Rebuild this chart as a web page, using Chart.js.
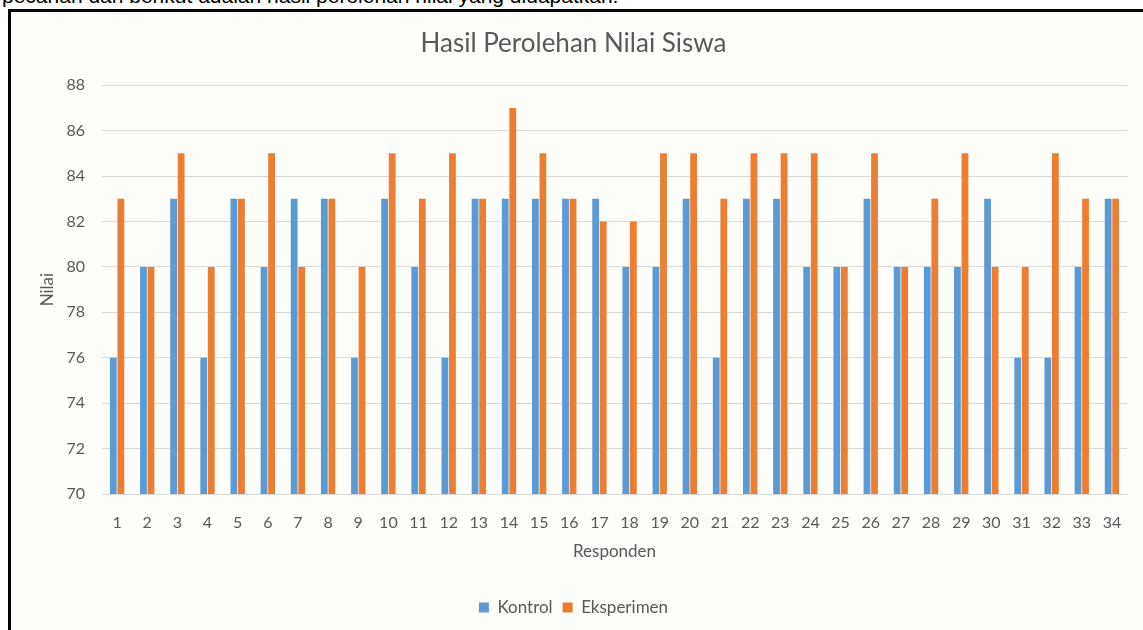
<!DOCTYPE html>
<html>
<head>
<meta charset="utf-8">
<script src="https://cdn.jsdelivr.net/npm/chart.js@4"></script>
<style>
  html, body { margin: 0; padding: 0; background: #fff; overflow: hidden; }
  #page { position: relative; width: 1143px; height: 630px; }
  #lead {
    position: absolute; left: 2px; top: -16px;
    font: 21px "Liberation Sans", Arial, sans-serif; color: #000; white-space: nowrap;
  }
  #frame {
    position: absolute; left: 8px; top: 9px; width: 1200px; height: 700px;
    border-left: 3px solid #000; border-top: 3px solid #000; background: #fdfdfa;
  }
  #nilaiChart { position: absolute; left: 0; top: 0; }
</style>
</head>
<body>
<div id="page">
  <div id="lead">pecahan dari berikut adalah hasil perolehan nilai yang didapatkan.</div>
  <div id="frame"></div>
  <canvas id="nilaiChart" width="1143" height="630"></canvas>
</div>
<script>
const responden = [
  "1", "2", "3", "4", "5", "6", "7", "8", "9", "10", "11", "12",
  "13", "14", "15", "16", "17", "18", "19", "20", "21", "22", "23",
  "24", "25", "26", "27", "28", "29", "30", "31", "32", "33", "34"
];
const kontrol = [
  76, 80, 83, 76, 83, 80, 83, 83, 76, 83, 80, 76,
  83, 83, 83, 83, 83, 80, 80, 83, 76, 83, 83,
  80, 80, 83, 80, 80, 80, 83, 76, 76, 80, 83
];
const eksperimen = [
  83, 80, 85, 80, 83, 85, 80, 83, 80, 85, 83, 85,
  83, 87, 85, 83, 82, 82, 85, 85, 83, 85, 85,
  85, 80, 85, 80, 83, 85, 80, 80, 85, 83, 83
];
const yMin = 70;
const yMax = 88;
const yStep = 2;

const teks = "#595959";
const garis = "#d9d9d9";
const huruf = "Lato, 'Open Sans', sans-serif";

const ctx = document.getElementById("nilaiChart");

new Chart(ctx, {
  type: "bar",
  data: {
    labels: responden,
    datasets: [
      {
        label: "Kontrol",
        data: kontrol,
        backgroundColor: "#5b9bd5",
        categoryPercentage: 0.5,
        barPercentage: 0.9
      },
      {
        label: "Eksperimen",
        data: eksperimen,
        backgroundColor: "#ed7d31",
        categoryPercentage: 0.5,
        barPercentage: 0.9
      }
    ]
  },
  options: {
    responsive: false,
    animation: false,
    layout: { padding: { top: 0, left: 20, right: 16, bottom: 4 } },
    plugins: {
      title: {
        display: true,
        text: "Hasil Perolehan Nilai Siswa",
        color: teks,
        font: { family: huruf, size: 26, weight: "normal" },
        padding: { top: 28, bottom: 26 }
      },
      legend: {
        position: "bottom",
        labels: {
          color: teks,
          font: { family: huruf, size: 17 },
          boxWidth: 10,
          boxHeight: 10,
          padding: 10
        }
      },
      tooltip: { enabled: false }
    },
    scales: {
      x: {
        grid: { display: false, drawTicks: false },
        border: { color: garis },
        ticks: { color: teks, font: { family: huruf, size: 16 }, padding: 19, maxRotation: 0, autoSkip: false },
        title: {
          display: true,
          text: "Responden",
          color: teks,
          font: { family: huruf, size: 17 },
          padding: { top: 4, bottom: 27 }
        },
        afterFit: (scale) => { scale.height = 95; }
      },
      y: {
        min: yMin,
        max: yMax,
        grid: { color: garis, drawTicks: false },
        border: { display: false },
        ticks: { stepSize: yStep, color: teks, font: { family: huruf, size: 16 }, padding: 17 },
        title: {
          display: true,
          text: "Nilai",
          color: teks,
          font: { family: huruf, size: 17 },
          padding: { top: 17, bottom: 0 }
        },
        afterFit: (scale) => { scale.width = 82; }
      }
    }
  }
});
</script>
</body>
</html>
